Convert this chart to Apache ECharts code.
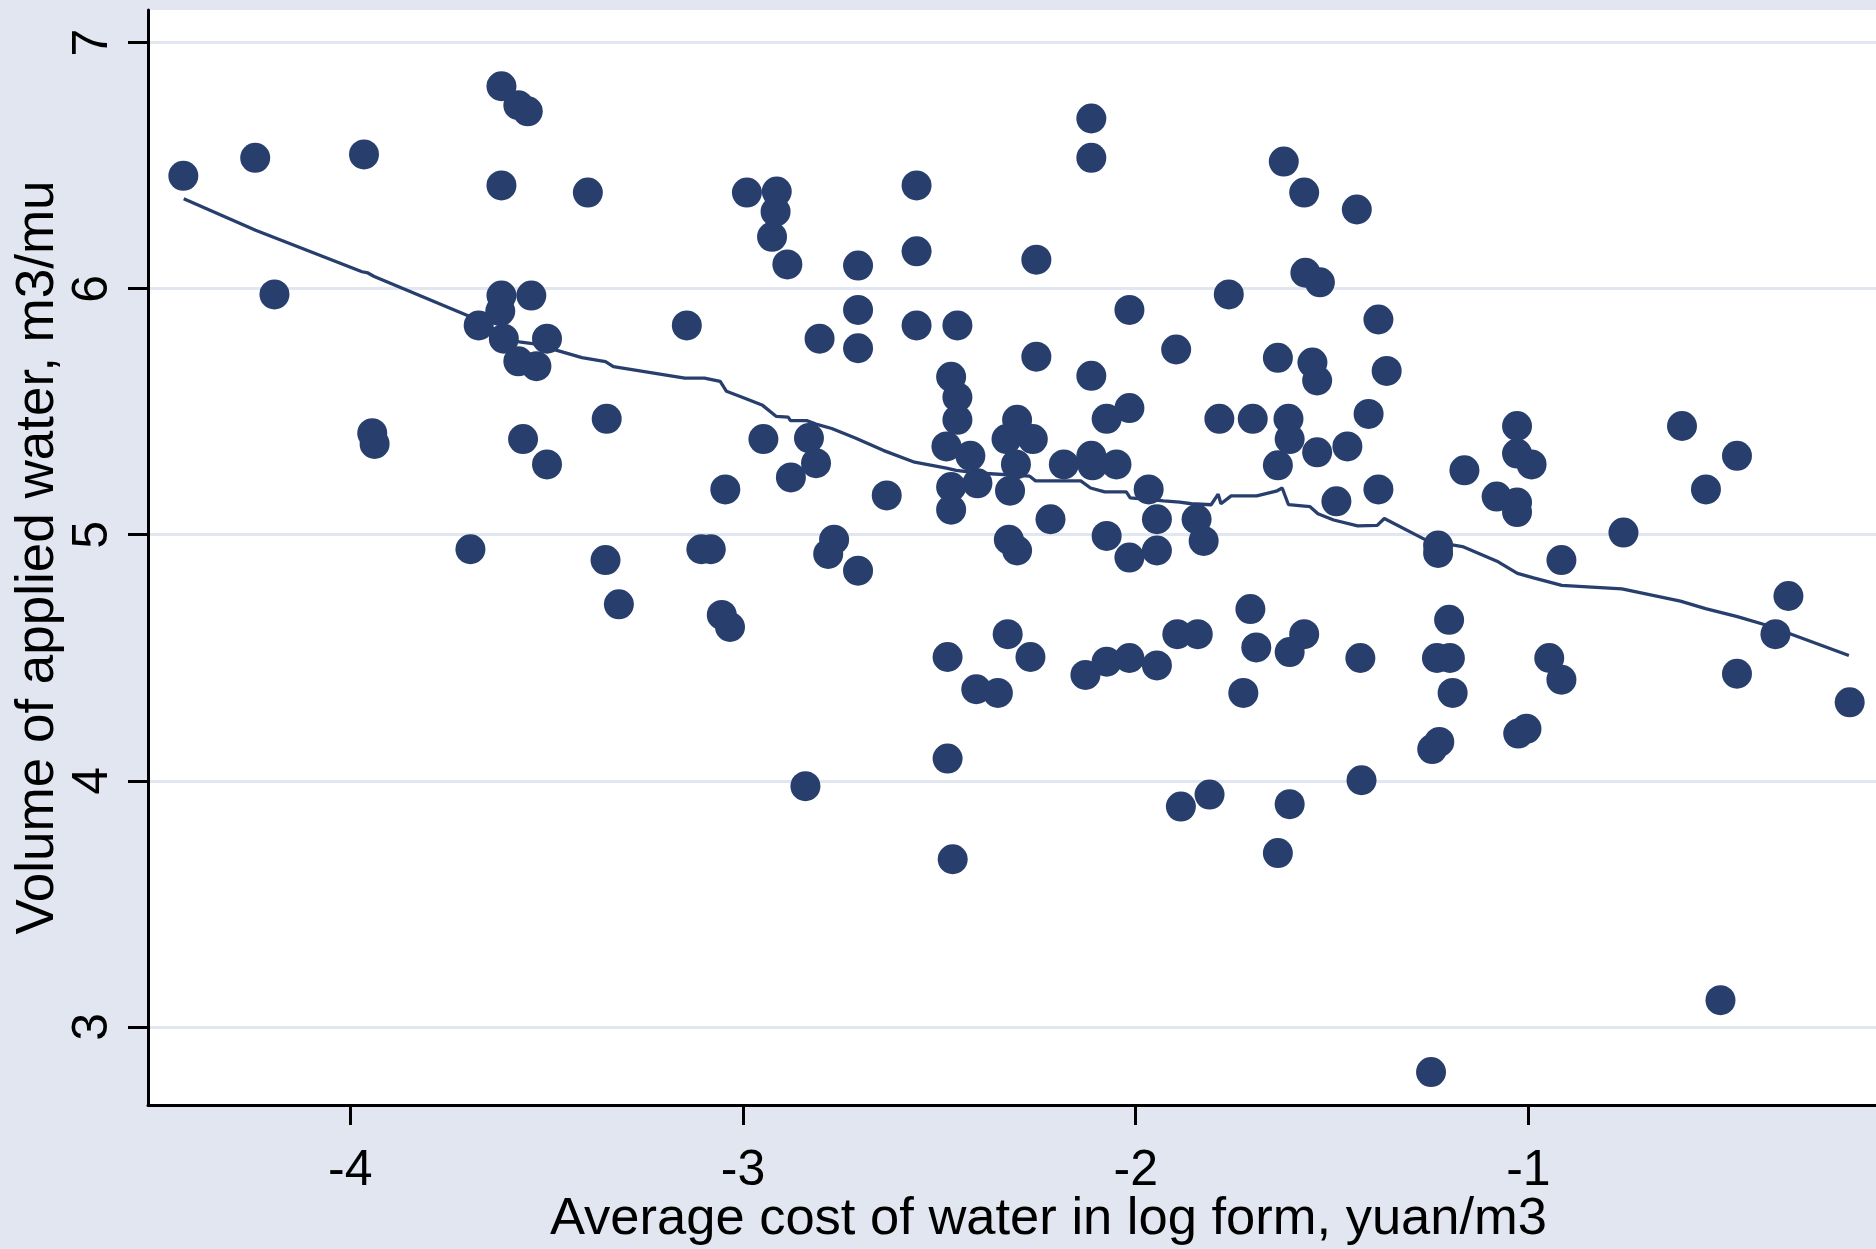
<!DOCTYPE html>
<html>
<head>
<meta charset="utf-8">
<title>Applied water vs cost of water</title>
<script src="https://cdn.jsdelivr.net/npm/echarts@6/dist/echarts.min.js"></script>
<style>
  html, body { margin: 0; padding: 0; background: #e1e6f0; }
  #main { width: 1876px; height: 1249px; }
</style>
</head>
<body>
<div id="main"></div>
<script>
// log of average cost of water (x) for each farm plot
var costLog = [
  -4.425, -4.242, -4.193, -3.965, -3.944, -3.938, -3.694, -3.673, -3.615, -3.572,
  -3.548, -3.615, -3.615, -3.618, -3.609, -3.539, -3.572, -3.526, -3.499, -3.560,
  -3.499, -3.395, -3.347, -3.350, -3.316, -3.143, -3.106, -3.082, -3.054, -3.033,
  -3.045, -2.990, -2.948, -2.914, -2.917, -2.926, -2.887, -2.878, -2.832, -2.805,
  -2.814, -2.841, -2.768, -2.783, -2.707, -2.707, -2.707, -2.707, -2.634, -2.558,
  -2.558, -2.558, -2.470, -2.454, -2.454, -2.454, -2.482, -2.470, -2.470, -2.479,
  -2.479, -2.466, -2.421, -2.403, -2.406, -2.351, -2.329, -2.302, -2.305, -2.320,
  -2.323, -2.302, -2.326, -2.268, -2.262, -2.253, -2.253, -2.217, -2.183, -2.128,
  -2.113, -2.113, -2.113, -2.113, -2.110, -2.074, -2.074, -2.074, -2.049, -2.016,
  -2.016, -2.016, -2.016, -1.967, -1.946, -1.946, -1.946, -1.897, -1.894, -1.885,
  -1.842, -1.845, -1.827, -1.812, -1.763, -1.787, -1.726, -1.708, -1.702, -1.693,
  -1.638, -1.638, -1.638, -1.623, -1.608, -1.611, -1.608, -1.608, -1.571, -1.571,
  -1.568, -1.531, -1.550, -1.538, -1.538, -1.489, -1.461, -1.437, -1.428, -1.425,
  -1.407, -1.382, -1.382, -1.361, -1.245, -1.227, -1.248, -1.233, -1.200, -1.230,
  -1.230, -1.202, -1.193, -1.163, -1.081, -1.029, -1.029, -1.029, -1.029, -0.992,
  -1.026, -1.005, -0.947, -0.916, -0.916, -0.758, -0.609, -0.548, -0.511, -0.469,
  -0.469, -0.371, -0.338, -0.182
];
// volume of applied water (y), m3/mu
var water = [
  6.459, 6.532, 5.977, 6.546, 5.413, 5.369, 4.941, 5.851, 6.823, 6.746,
  6.721, 6.420, 5.972, 5.909, 5.797, 5.972, 5.705, 5.685, 5.797, 5.389,
  5.286, 6.391, 5.471, 4.897, 4.717, 5.851, 4.941, 4.941, 4.674, 4.625,
  5.184, 6.391, 5.389, 6.395, 6.313, 6.211, 6.099, 5.233, 5.393, 5.797,
  5.291, 3.978, 4.980, 4.922, 6.094, 5.914, 5.758, 4.854, 5.160, 6.420,
  6.152, 5.851, 5.642, 5.559, 5.467, 5.851, 5.359, 5.194, 5.102, 4.503,
  4.090, 3.681, 5.321, 5.209, 4.372, 4.357, 5.389, 5.467, 5.286, 5.179,
  4.980, 4.936, 4.596, 4.503, 5.389, 5.724, 6.118, 5.063, 5.286, 4.430,
  6.692, 6.532, 5.646, 5.321, 5.282, 5.471, 4.995, 4.484, 5.286, 5.914,
  5.515, 4.907, 4.499, 5.184, 5.063, 4.936, 4.469, 5.753, 4.596, 3.895,
  4.596, 5.063, 4.975, 3.944, 5.977, 5.471, 4.357, 4.698, 5.471, 4.542,
  3.706, 5.719, 5.282, 6.517, 3.905, 5.471, 5.389, 4.523, 6.391, 4.596,
  6.065, 6.026, 5.700, 5.627, 5.335, 5.136, 5.359, 6.322, 4.499, 4.002,
  5.491, 5.875, 5.184, 5.666, 4.129, 4.158, 2.816, 4.499, 4.499, 4.956,
  4.926, 4.654, 4.357, 5.262, 5.155, 5.442, 5.330, 5.131, 5.092, 5.286,
  4.192, 4.211, 4.499, 4.411, 4.897, 5.009, 5.442, 5.184, 3.108, 5.321,
  4.435, 4.596, 4.751, 4.319
];
// lowess smoother
var smoothX = [
  -4.424, -4.241, -3.970, -3.955, -3.939, -3.697, -3.570, -3.531, -3.410, -3.350,
  -3.330, -3.148, -3.098, -3.058, -3.042, -3.002, -2.950, -2.915, -2.885, -2.879,
  -2.838, -2.814, -2.774, -2.714, -2.643, -2.563, -2.482, -2.457, -2.401, -2.270,
  -2.255, -2.140, -2.115, -2.079, -2.024, -2.014, -1.929, -1.888, -1.858, -1.808,
  -1.790, -1.783, -1.757, -1.692, -1.642, -1.627, -1.611, -1.556, -1.536, -1.496,
  -1.435, -1.385, -1.367, -1.258, -1.168, -1.077, -1.028, -0.987, -0.915, -0.762,
  -0.613, -0.549, -0.468, -0.391, -0.184
];
var smoothY = [
  6.366, 6.238, 6.069, 6.064, 6.050, 5.888, 5.784, 5.776, 5.720, 5.704,
  5.683, 5.637, 5.637, 5.623, 5.583, 5.559, 5.526, 5.481, 5.478, 5.464,
  5.464, 5.450, 5.432, 5.393, 5.343, 5.295, 5.271, 5.262, 5.251, 5.238,
  5.219, 5.219, 5.190, 5.174, 5.174, 5.150, 5.138, 5.133, 5.126, 5.122,
  5.165, 5.126, 5.158, 5.158, 5.177, 5.190, 5.122, 5.114, 5.085, 5.060,
  5.036, 5.038, 5.066, 4.976, 4.952, 4.890, 4.843, 4.825, 4.794, 4.780,
  4.730, 4.700, 4.667, 4.631, 4.509
];
var xTicks = [-4, -3, -2, -1];
var yTicks = [3, 4, 5, 6, 7];

var navy = '#283f6e';
var fontName = '"Liberation Sans", Arial, sans-serif';

var points = costLog.map(function (c, i) { return [c, water[i]]; });
var smooth = smoothX.map(function (c, i) { return [c, smoothY[i]]; });

var chart = echarts.init(document.getElementById('main'));
chart.setOption({
  animation: false,
  backgroundColor: '#e1e6f0',
  grid: {
    left: 148, right: 0, top: 10, bottom: 144,
    outerBoundsMode: 'none',
    containLabel: false,
    show: true, backgroundColor: '#ffffff', borderWidth: 0
  },
  xAxis: {
    type: 'value',
    min: -4.515,
    max: -0.115,
    name: 'Average cost of water in log form, yuan/m3',
    nameLocation: 'middle',
    nameGap: 88,
    nameMoveOverlap: false,
    nameTextStyle: { fontFamily: fontName, fontSize: 52.5, color: '#000', padding: [0, 0, 0, 73] },
    axisLine: { show: true, onZero: false, lineStyle: { color: '#000', width: 3 } },
    axisTick: { show: true, customValues: xTicks, length: 20, lineStyle: { color: '#000', width: 3 } },
    axisLabel: { customValues: xTicks, fontFamily: fontName, fontSize: 50, color: '#000', margin: 41 },
    splitLine: { show: false }
  },
  yAxis: {
    type: 'value',
    min: 2.682,
    max: 7.133,
    name: 'Volume of applied water, m3/mu',
    nameLocation: 'middle',
    nameGap: 83,
    nameMoveOverlap: false,
    nameTextStyle: { fontFamily: fontName, fontSize: 53, color: '#000' },
    axisLine: { show: true, onZero: false, lineStyle: { color: '#000', width: 3 } },
    axisTick: { show: true, customValues: yTicks, length: 20, lineStyle: { color: '#000', width: 3 } },
    axisLabel: { customValues: yTicks, rotate: 90, fontFamily: fontName, fontSize: 50, color: '#000', margin: 30 },
    splitLine: { show: true, lineStyle: { color: '#e1e6f0', width: 3 } }
  },
  series: [
    {
      name: 'water',
      type: 'scatter',
      data: points,
      symbol: 'circle',
      symbolSize: 30,
      itemStyle: { color: navy, opacity: 1 },
      z: 2
    },
    {
      name: 'lowess',
      type: 'line',
      data: smooth,
      showSymbol: false,
      symbol: 'none',
      lineStyle: { color: navy, width: 3.3 },
      z: 3
    }
  ]
});
</script>
</body>
</html>
